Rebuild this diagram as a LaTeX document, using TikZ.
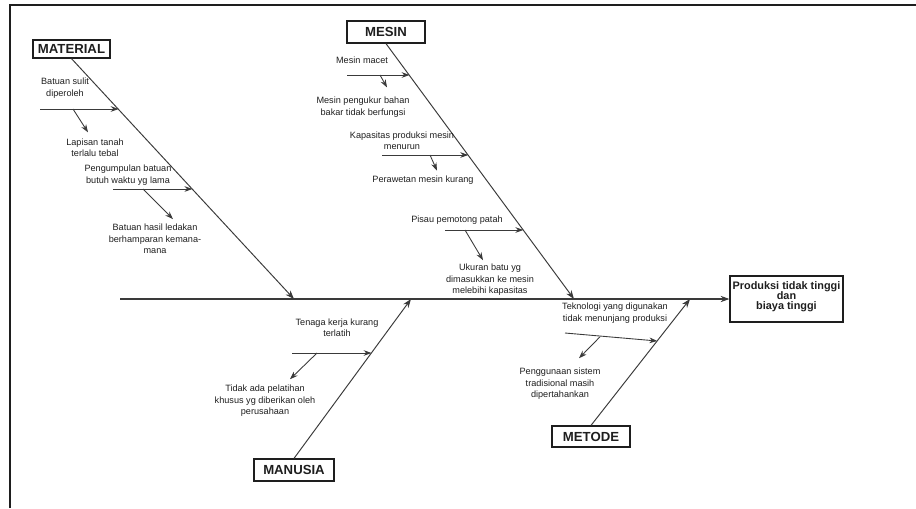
\documentclass[tikz,border=0pt]{standalone}
\usepackage{fontspec}
\setmainfont{Liberation Sans}
\usepackage{xcolor}
\usetikzlibrary{calc,arrows.meta}
\definecolor{ink}{HTML}{1E1E1E}
\definecolor{rule}{HTML}{3A3A3A}
\tikzset{
  frame/.style={draw=ink, line width=1.1pt},
  cat/.style={draw=ink, line width=0.7pt, text=ink, inner sep=0pt, font=\bfseries\fontsize{7.5}{8}\selectfont},
  result/.style={draw=ink, line width=0.7pt, text=ink, inner sep=0pt, align=center, font=\bfseries\fontsize{6.2}{5.9}\selectfont},
  spine/.style={draw=rule, line width=0.6pt, -{Stealth[length=5pt,width=3.6pt]}},
  bone/.style={draw=rule, line width=0.55pt, -{Stealth[length=5pt,width=3.6pt]}},
  cause/.style={draw=rule, line width=0.5pt, -{Stealth[length=4.5pt,width=3.2pt]}},
  lab/.style={align=center, text=ink, inner sep=1pt, font=\fontsize{5.2}{6.5}\selectfont},
}
\begin{document}
\begin{tikzpicture}[x=0.02cm, y=-0.02cm]
  \useasboundingbox (0,0) rectangle (916,508);
  \draw[frame] (10,508) -- (10,5) -- (916,5);

  \node[result, minimum width=2.26cm, minimum height=0.92cm, text depth=0.14cm] (effect) at (786.5,299)
    {Produksi tidak tinggi\\dan\\biaya tinggi};
  \node[cat, minimum width=1.54cm, minimum height=0.36cm] (material) at (71.5,49) {MATERIAL};
  \node[cat, minimum width=1.56cm, minimum height=0.44cm] (mesin) at (386,32) {MESIN};
  \node[cat, minimum width=1.60cm, minimum height=0.44cm] (manusia) at (294,470) {MANUSIA};
  \node[cat, minimum width=1.56cm, minimum height=0.42cm] (metode) at (591,436.5) {METODE};

  \coordinate (tail) at (120,299);
  \coordinate (matE) at (294,299);
  \coordinate (mesE) at (574,299);
  \coordinate (manE) at (411,299);
  \coordinate (metE) at (690,299);
  \draw[spine] (tail) -- (effect.west);
  \draw[bone] (material.south) -- (matE);
  \draw[bone] (mesin.south) -- (mesE);
  \draw[bone] (manusia.north) -- (manE);
  \draw[bone] (metode.north) -- (metE);

  % material
  \node[lab] (batuan) at (65,88) {Batuan sulit\\diperoleh};
  \node[lab] (lapisan) at (95,147.5) {Lapisan tanah\\terlalu tebal};
  \node[lab] (kumpul) at (128,175) {Pengumpulan batuan\\butuh waktu yg lama};
  \node[lab] (ledakan) at (155,239) {Batuan hasil ledakan\\berhamparan kemana-\\mana};
  \coordinate (mat1s) at (40,109);  \coordinate (mat1) at (118.6,109);
  \coordinate (mat2s) at (113,189); \coordinate (mat2) at (192.4,189);
  \coordinate (mat1b) at (73,109);  \coordinate (mat2b) at (143,189);
  \draw[cause] (mat1s) -- (mat1);
  \draw[cause] (mat2s) -- (mat2);
  \draw[cause] (mat1b) -- ($(lapisan.north)+(-7,-4)$);
  \draw[cause] (mat2b) -- ($(ledakan.north)+(18,-3)$);

  % mesin
  \node[lab] (macet) at (362,60) {Mesin macet};
  \node[lab] (ukur) at (363,107) {Mesin pengukur bahan\\bakar tidak berfungsi};
  \node[lab] (kapasitas) at (402,141) {Kapasitas produksi mesin\\menurun};
  \node[lab] (rawat) at (423,180) {Perawetan mesin kurang};
  \node[lab] (pisau) at (457,220) {Pisau pemotong patah};
  \node[lab] (ukuran) at (490,280) {Ukuran batu yg\\dimasukkan ke mesin\\melebihi kapasitas};
  \coordinate (mes1s) at (347,75);  \coordinate (mes1) at (409.5,75);
  \coordinate (mes2s) at (382,155); \coordinate (mes2) at (468.2,155);
  \coordinate (mes3s) at (445,230); \coordinate (mes3) at (523.3,230);
  \coordinate (mes1b) at (380,75);  \coordinate (mes2b) at (430,155);
  \coordinate (mes3b) at (465,230);
  \draw[cause] (mes1s) -- (mes1);
  \draw[cause] (mes2s) -- (mes2);
  \draw[cause] (mes3s) -- (mes3);
  \draw[cause] (mes1b) -- ($(ukur.north)+(24,-7.5)$);
  \draw[cause] (mes2b) -- ($(rawat.north)+(14,-3)$);
  \draw[cause] (mes3b) -- ($(ukuran.north)+(-7,-2)$);

  % manusia
  \node[lab] (tenaga) at (337,328) {Tenaga kerja kurang\\terlatih};
  \node[lab] (latih) at (265,401) {Tidak ada pelatihan\\khusus yg diberikan oleh\\perusahaan};
  \coordinate (man1s) at (292,353); \coordinate (man1) at (371.5,353);
  \coordinate (man1b) at (317,353);
  \draw[cause] (man1s) -- (man1);
  \draw[cause] (man1b) -- ($(latih.north)+(25,-4)$);

  % metode
  \node[lab] (teknologi) at (615,313) {Teknologi yang digunakan\\tidak menunjang produksi};
  \node[lab] (sistem) at (560,384) {Penggunaan sistem\\tradisional masih\\dipertahankan};
  \coordinate (met1s) at (565,333); \coordinate (met1) at (657.3,341);
  \coordinate (met1b) at (600,336.8);
  \draw[cause] (met1s) -- (met1);
  \draw[cause] (met1b) -- ($(sistem.north)+(19,-8)$);
\end{tikzpicture}
\end{document}
